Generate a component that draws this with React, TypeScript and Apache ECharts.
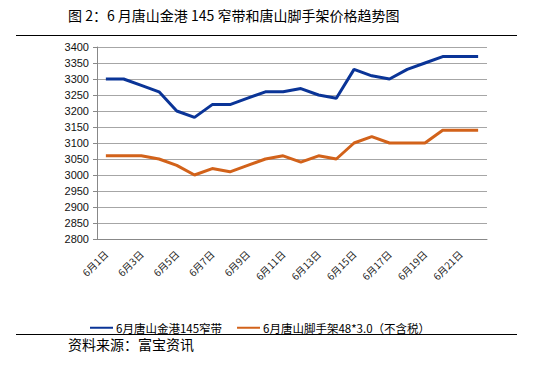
import React, { useEffect, useRef } from "react";
import * as echarts from "echarts";

const categories = [
  "6月1日", "6月2日", "6月3日", "6月4日", "6月5日", "6月6日", "6月7日", "6月8日",
  "6月9日", "6月10日", "6月11日", "6月12日", "6月13日", "6月14日", "6月15日", "6月16日",
  "6月17日", "6月18日", "6月19日", "6月20日", "6月21日", "6月22日",
];
const seriesNames = ["6月唐山金港145窄带", "6月唐山脚手架48*3.0（不含税）"];
const narrowStrip = [
  3300, 3300, 3280, 3260, 3200, 3180, 3220, 3220, 3240, 3260, 3260,
  3270, 3250, 3240, 3330, 3310, 3300, 3330, 3350, 3370, 3370, 3370,
];
const scaffold = [
  3060, 3060, 3060, 3050, 3030, 3000, 3020, 3010, 3030, 3050, 3060,
  3040, 3060, 3050, 3100, 3120, 3100, 3100, 3100, 3140, 3140, 3140,
];
const titleText = "图 2：6 月唐山金港 145 窄带和唐山脚手架价格趋势图";
const sourceText = "资料来源：富宝资讯";

export default function App() {
  const ref = useRef<HTMLDivElement>(null);
  useEffect(() => {
    if (!ref.current) return;
    const chart = echarts.init(ref.current, null, { renderer: "svg" });
    chart.setOption({
      animation: false,
      backgroundColor: "#ffffff",
      grid: { left: 97, right: 49, top: 47, bottom: 127, containLabel: false },
      legend: {
        left: 85,
        top: 317,
        itemWidth: 23,
        itemHeight: 2,
        itemGap: 15,
        icon: "rect",
        textStyle: { fontSize: 11.5, color: "#000", fontFamily: "Noto Sans CJK SC", padding: [0, 0, 0, -2] },
        data: seriesNames,
      },
      xAxis: {
        type: "category",
        data: categories,
        boundaryGap: true,
        axisLine: { lineStyle: { color: "#888", width: 1 } },
        axisTick: { interval: 1, length: 4, lineStyle: { color: "#888" } },
        axisLabel: {
          interval: 1,
          rotate: 45,
          fontSize: 10,
          color: "#222",
          margin: 13,
          fontFamily: "Noto Sans CJK SC",
        },
        splitLine: { show: false },
      },
      yAxis: {
        type: "value",
        min: 2800,
        max: 3400,
        interval: 50,
        axisLine: { show: true, lineStyle: { color: "#888", width: 1 } },
        axisTick: { show: true, length: 4, inside: false, lineStyle: { color: "#888" } },
        axisLabel: {
          fontSize: 11,
          color: "#111",
          margin: 8,
          fontFamily: "Liberation Sans",
          formatter: (v: number) => String(v),
        },
        splitLine: { lineStyle: { color: "#a6a6a6", width: 1 } },
      },
      series: [
        {
          name: seriesNames[0],
          type: "line",
          data: narrowStrip,
          symbol: "none",
          itemStyle: { color: "#0a3497" },
          lineStyle: { color: "#0a3497", width: 3 },
        },
        {
          name: seriesNames[1],
          type: "line",
          data: scaffold,
          symbol: "none",
          itemStyle: { color: "#d2621a" },
          lineStyle: { color: "#d2621a", width: 3 },
        },
      ],
      graphic: [
        {
          type: "text",
          left: 68,
          top: 8,
          style: { text: titleText, fontSize: 14, fill: "#000", fontFamily: "Noto Sans CJK SC" },
        },
        {
          type: "line",
          shape: { x1: 16, y1: 35.5, x2: 517, y2: 35.5 },
          style: { stroke: "#000", lineWidth: 1 },
        },
        {
          type: "line",
          shape: { x1: 16, y1: 334.5, x2: 517, y2: 334.5 },
          style: { stroke: "#000", lineWidth: 1 },
        },
        {
          type: "text",
          left: 68,
          top: 337,
          style: { text: sourceText, fontSize: 14, fill: "#000", fontFamily: "Noto Sans CJK SC" },
        },
      ],
    });
    return () => chart.dispose();
  }, []);
  return <div ref={ref} style={{ width: 536, height: 366, position: "absolute", left: 0, top: 0 }} />;
}
